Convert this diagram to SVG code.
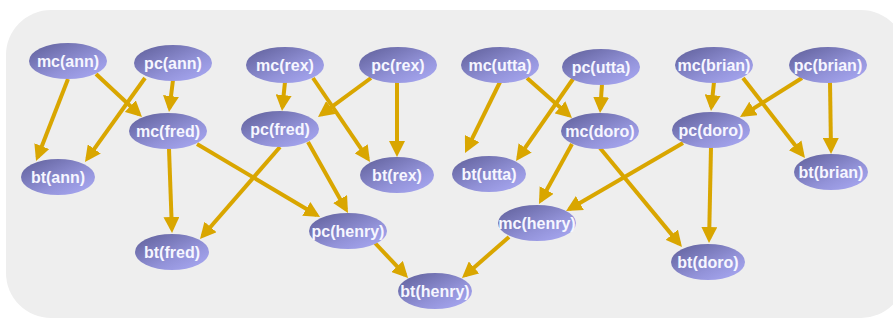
<svg xmlns="http://www.w3.org/2000/svg" width="893" height="320" viewBox="0 0 893 320">
  <style>
    .node ellipse { fill: url(#nodeFill); }
    .node text { font-family: "Liberation Sans", Arial, sans-serif; font-size: 16px; font-weight: bold; fill: #f6f6ff; text-anchor: middle; }
    .edges line { stroke: #d9a600; stroke-width: 4; marker-end: url(#head); }
  </style>
  <defs>
    <linearGradient id="nodeFill" x1="0" y1="0" x2="1" y2="1">
      <stop offset="0" stop-color="#5e5e98"/>
      <stop offset="0.6" stop-color="#9292d8"/>
      <stop offset="1" stop-color="#ababf6"/>
    </linearGradient>
    <marker id="head" markerUnits="userSpaceOnUse" markerWidth="16" markerHeight="16" viewBox="0 -8 16 16" refX="12" refY="0" orient="auto">
      <path d="M0,-8 L16,0 L0,8 z" fill="#d9a600"/>
    </marker>
  </defs>

  <!-- panel -->
  <rect x="6" y="10" width="900" height="308" rx="45" ry="45" fill="#eeeeee"/>

  <!-- connectors -->
  <g id="edges" class="edges">
    <line x1="68" y1="79" x2="37.5" y2="157.3"/>
    <line x1="145" y1="78" x2="87.3" y2="158.7"/>
    <line x1="96" y1="74" x2="139.1" y2="114.3"/>
    <line x1="173" y1="80" x2="169.5" y2="108"/>
    <line x1="285" y1="82" x2="282.4" y2="107"/>
    <line x1="371" y1="78" x2="321.2" y2="114.6"/>
    <line x1="313" y1="78" x2="367.8" y2="158.7"/>
    <line x1="397" y1="82" x2="397" y2="153"/>
    <line x1="169" y1="149" x2="171.9" y2="229"/>
    <line x1="280" y1="147" x2="202.6" y2="236"/>
    <line x1="197" y1="144" x2="316.6" y2="215"/>
    <line x1="308" y1="142" x2="346" y2="209.5"/>
    <line x1="375" y1="243" x2="405.3" y2="275.1"/>
    <line x1="509" y1="237" x2="465" y2="275.4"/>
    <line x1="500" y1="82" x2="466.8" y2="149.4"/>
    <line x1="573" y1="79" x2="518.3" y2="157.7"/>
    <line x1="527" y1="78" x2="569" y2="115.3"/>
    <line x1="602" y1="84" x2="600.3" y2="109"/>
    <line x1="572" y1="144" x2="540.9" y2="200.5"/>
    <line x1="683" y1="143" x2="569.5" y2="209"/>
    <line x1="600" y1="148" x2="679.4" y2="243.9"/>
    <line x1="711" y1="147" x2="709.1" y2="239"/>
    <line x1="714" y1="82" x2="711.4" y2="107"/>
    <line x1="802" y1="78" x2="743.4" y2="114.9"/>
    <line x1="743" y1="78" x2="802.5" y2="154.8"/>
    <line x1="830" y1="82" x2="831" y2="150"/>
  </g>

  <!-- nodes -->
  <g id="mc-ann" class="node"><ellipse cx="68" cy="61" rx="39" ry="18"/><text x="68" y="67">mc(ann)</text></g>
  <g id="pc-ann" class="node"><ellipse cx="173" cy="63" rx="39" ry="18"/><text x="173" y="69">pc(ann)</text></g>
  <g id="mc-rex" class="node"><ellipse cx="285" cy="65" rx="39" ry="18"/><text x="285" y="71">mc(rex)</text></g>
  <g id="pc-rex" class="node"><ellipse cx="398" cy="65" rx="39" ry="18"/><text x="398" y="71">pc(rex)</text></g>
  <g id="mc-utta" class="node"><ellipse cx="500" cy="65" rx="39" ry="18"/><text x="500" y="71">mc(utta)</text></g>
  <g id="pc-utta" class="node"><ellipse cx="601" cy="67" rx="39" ry="18"/><text x="601" y="73">pc(utta)</text></g>
  <g id="mc-brian" class="node"><ellipse cx="714" cy="65" rx="39" ry="18"/><text x="714" y="71">mc(brian)</text></g>
  <g id="pc-brian" class="node"><ellipse cx="828" cy="65" rx="39" ry="18"/><text x="828" y="71">pc(brian)</text></g>
  <g id="mc-fred" class="node"><ellipse cx="168" cy="131" rx="39" ry="18"/><text x="168" y="137">mc(fred)</text></g>
  <g id="pc-fred" class="node"><ellipse cx="280" cy="129" rx="39" ry="18"/><text x="280" y="135">pc(fred)</text></g>
  <g id="mc-doro" class="node"><ellipse cx="600" cy="131" rx="39" ry="18"/><text x="600" y="137">mc(doro)</text></g>
  <g id="pc-doro" class="node"><ellipse cx="711" cy="130" rx="39" ry="18"/><text x="711" y="136">pc(doro)</text></g>
  <g id="bt-ann" class="node"><ellipse cx="58" cy="177" rx="37" ry="18"/><text x="58" y="183">bt(ann)</text></g>
  <g id="bt-rex" class="node"><ellipse cx="397" cy="175" rx="37" ry="18"/><text x="397" y="181">bt(rex)</text></g>
  <g id="bt-utta" class="node"><ellipse cx="489" cy="174" rx="37" ry="18"/><text x="489" y="180">bt(utta)</text></g>
  <g id="bt-brian" class="node"><ellipse cx="831" cy="172" rx="37" ry="18"/><text x="831" y="178">bt(brian)</text></g>
  <g id="mc-henry" class="node"><ellipse cx="537" cy="223" rx="39" ry="18"/><text x="537" y="229">mc(henry)</text></g>
  <g id="pc-henry" class="node"><ellipse cx="348" cy="231" rx="39" ry="18"/><text x="348" y="237">pc(henry)</text></g>
  <g id="bt-fred" class="node"><ellipse cx="172" cy="252" rx="37" ry="18"/><text x="172" y="258">bt(fred)</text></g>
  <g id="bt-doro" class="node"><ellipse cx="708" cy="262" rx="37" ry="18"/><text x="708" y="268">bt(doro)</text></g>
  <g id="bt-henry" class="node"><ellipse cx="435" cy="291" rx="37" ry="18"/><text x="435" y="297">bt(henry)</text></g>
</svg>
